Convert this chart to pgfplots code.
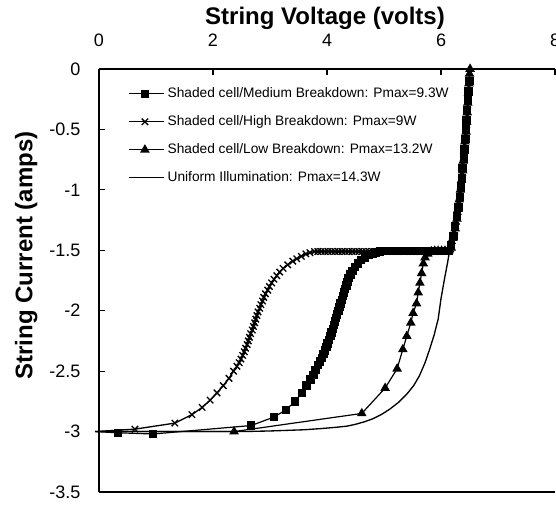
\documentclass[border=0pt]{standalone}
\usepackage{fontspec}
\setmainfont{Liberation Sans}
\usepackage{pgfplots}
\pgfplotsset{compat=1.18}
\begin{document}
\begin{tikzpicture}
\begin{axis}[
  name=ax,
  scale only axis, width=342pt, height=317.25pt,
  xmin=0, xmax=8, ymin=-3.5, ymax=0,
  axis x line*=box, axis y line*=left,
  xtick pos=right, xticklabel pos=right,
  tick align=inside,
  major tick length=4.5pt,
  every tick/.style={black, line width=0.9pt},
  axis line style={line width=1pt},
  xtick={0,2,4,6,8}, xticklabels={0,2,4,6,8},
  ytick={-3.5,-3,-2.5,-2,-1.5,-1,-0.5,0},
  yticklabels={-3.5,-3,-2.5,-2,-1.5,-1,-0.5,0},
  xticklabel style={font=\fontsize{13.5}{16}\selectfont, anchor=base, inner sep=0pt, yshift=16.9pt},
  yticklabel style={font=\fontsize{13.5}{16}\selectfont, anchor=east, inner sep=0pt, xshift=-13.7pt},
  xlabel={String Voltage (volts)},
  ylabel={String Current (amps)},
  xlabel style={font=\bfseries\fontsize{18}{21}\selectfont, at={(axis description cs:0.4956,1)}, anchor=base, yshift=33pt, inner sep=0pt},
  ylabel style={font=\bfseries\fontsize{18}{21}\selectfont, at={(axis description cs:-0.14627,0.5591)}, anchor=base, inner sep=0pt},
  clip=false,
  legend cell align=left,
  legend style={draw=none, fill=none, at={(axis description cs:0.0636,0.957)}, anchor=north west,
    font=\fontsize{10.3}{12}\selectfont, inner sep=0pt, row sep=11.5pt, column sep=2.5pt,
    nodes={inner sep=0pt, text height=7.5pt, text depth=2pt}},
  legend image code/.code={\draw[mark repeat=2,mark phase=2] plot coordinates {(0pt,0pt)(12pt,0pt)(26pt,0pt)};},
]
% Medium breakdown (squares)
\addplot[black, line width=0.9pt, mark=square*, mark size=2.7pt, mark phase=2, mark repeat=1, mark options={solid}] coordinates {
(-0.07,-3.00) (0.33,-3.01) (0.95,-3.02) (2.67,-2.95) (3.07,-2.88) (3.28,-2.82) (3.44,-2.75) (3.56,-2.68)
(3.64,-2.62) (3.71,-2.57) (3.76,-2.53) (3.80,-2.49) (3.84,-2.45) (3.88,-2.42) (3.91,-2.39) (3.94,-2.36)
(3.96,-2.33) (3.99,-2.30) (4.01,-2.27) (4.03,-2.24) (4.06,-2.21) (4.08,-2.18) (4.10,-2.15) (4.12,-2.12)
(4.14,-2.09) (4.16,-2.06) (4.18,-2.03) (4.20,-2.00) (4.22,-1.97) (4.24,-1.94) (4.26,-1.91) (4.28,-1.88)
(4.30,-1.85) (4.32,-1.82) (4.34,-1.79) (4.36,-1.76) (4.38,-1.73) (4.41,-1.70) (4.45,-1.67) (4.49,-1.64)
(4.54,-1.61) (4.60,-1.58) (4.67,-1.56) (4.74,-1.54) (4.80,-1.53) (4.86,-1.52) (4.93,-1.51)
(4.99,-1.505) (5.05,-1.505) (5.11,-1.505) (5.17,-1.505) (5.23,-1.505) (5.29,-1.505) (5.35,-1.505)
(5.41,-1.505) (5.47,-1.505) (5.53,-1.505) (5.59,-1.505) (5.65,-1.505) (5.71,-1.505) (5.77,-1.505)
(5.83,-1.505) (5.89,-1.505) (5.95,-1.505) (6.01,-1.505) (6.07,-1.505) (6.13,-1.505)
(6.18,-1.46) (6.22,-1.38) (6.25,-1.30) (6.28,-1.22) (6.31,-1.14) (6.33,-1.06) (6.35,-0.98) (6.37,-0.90)
(6.38,-0.82) (6.40,-0.74) (6.41,-0.66) (6.43,-0.58) (6.44,-0.50) (6.45,-0.42) (6.46,-0.34) (6.47,-0.26)
(6.48,-0.18) (6.50,-0.10)
};
\addlegendentry{Shaded cell/Medium Breakdown: Pmax=9.3W}
% High breakdown (x)
\addplot[black, line width=1pt, mark=x, mark size=3.4pt, mark phase=2, mark repeat=1, mark options={solid}] coordinates {
(-0.07,-3.00) (0.63,-2.98) (1.33,-2.93) (1.63,-2.86) (1.81,-2.80) (1.95,-2.74) (2.07,-2.68) (2.18,-2.62)
(2.28,-2.56) (2.36,-2.50) (2.42,-2.46) (2.46,-2.43) (2.49,-2.40) (2.52,-2.37) (2.55,-2.34) (2.57,-2.31)
(2.60,-2.28) (2.62,-2.25) (2.64,-2.22) (2.66,-2.19) (2.69,-2.16) (2.71,-2.13) (2.73,-2.10) (2.75,-2.07)
(2.77,-2.04) (2.79,-2.01) (2.82,-1.98) (2.84,-1.95) (2.87,-1.92) (2.89,-1.89) (2.92,-1.86) (2.96,-1.83)
(2.99,-1.80) (3.03,-1.77) (3.07,-1.74) (3.12,-1.71) (3.17,-1.68) (3.23,-1.65) (3.31,-1.62) (3.40,-1.59)
(3.47,-1.57) (3.55,-1.55) (3.63,-1.53) (3.70,-1.52)
(3.78,-1.51) (3.84,-1.51) (3.90,-1.51) (3.96,-1.51) (4.02,-1.51) (4.08,-1.51) (4.14,-1.51) (4.20,-1.51)
(4.26,-1.51) (4.32,-1.51) (4.38,-1.51) (4.44,-1.51) (4.50,-1.51) (4.56,-1.51) (4.62,-1.51) (4.68,-1.51)
(4.74,-1.51) (4.80,-1.51) (4.86,-1.51) (4.92,-1.51) (4.98,-1.51) (5.04,-1.51) (5.10,-1.51) (5.16,-1.51)
(5.22,-1.51) (5.28,-1.51) (5.34,-1.51) (5.40,-1.51) (5.46,-1.51) (5.52,-1.51) (5.58,-1.51) (5.64,-1.51)
(5.70,-1.51) (5.76,-1.51) (5.82,-1.51) (5.88,-1.51) (5.94,-1.51) (6.00,-1.51) (6.06,-1.51) (6.12,-1.51)
(6.17,-1.49) (6.20,-1.42) (6.24,-1.34) (6.27,-1.26) (6.30,-1.18) (6.32,-1.10) (6.34,-1.02) (6.36,-0.94)
(6.38,-0.86) (6.39,-0.78) (6.41,-0.70) (6.42,-0.62) (6.44,-0.54) (6.45,-0.46) (6.46,-0.38) (6.47,-0.30)
(6.48,-0.22) (6.49,-0.14)
};
\addlegendentry{Shaded cell/High Breakdown: Pmax=9W}
% Low breakdown (triangles)
\addplot[black, line width=0.9pt, mark=triangle*, mark size=3.3pt, mark phase=2, mark repeat=1, mark options={solid}] coordinates {
(-0.07,-3.00) (2.37,-3.00) (4.61,-2.85) (5.02,-2.64) (5.23,-2.48) (5.33,-2.32) (5.40,-2.21) (5.47,-2.10)
(5.51,-2.02) (5.57,-1.94) (5.60,-1.85) (5.63,-1.77) (5.66,-1.69) (5.69,-1.61) (5.72,-1.56) (5.77,-1.53)
(5.83,-1.51) (5.89,-1.505) (5.95,-1.505) (6.01,-1.505) (6.07,-1.505) (6.13,-1.505)
(6.18,-1.48) (6.21,-1.40) (6.25,-1.32) (6.28,-1.24) (6.30,-1.16) (6.32,-1.08) (6.34,-1.00) (6.36,-0.92)
(6.38,-0.84) (6.39,-0.76) (6.41,-0.68) (6.42,-0.60) (6.44,-0.52) (6.45,-0.44) (6.46,-0.36) (6.47,-0.28)
(6.48,-0.20) (6.49,-0.12) (6.50,-0.04) (6.51,0.00)
};
\addlegendentry{Shaded cell/Low Breakdown: Pmax=13.2W}
% Uniform illumination
\addplot[black, line width=1pt, no markers] coordinates {
(0,-3.00) (0.5,-3.00) (1.0,-3.00) (1.5,-3.00) (2.0,-3.00) (2.5,-3.00) (3.0,-2.995) (3.3,-2.99)
(3.6,-2.985) (3.9,-2.975) (4.15,-2.965) (4.35,-2.955) (4.5,-2.94) (4.65,-2.92) (4.8,-2.895) (4.95,-2.86)
(5.1,-2.815) (5.25,-2.76) (5.4,-2.69) (5.52,-2.62) (5.62,-2.54) (5.72,-2.43) (5.8,-2.32) (5.88,-2.2)
(5.95,-2.07) (6.00,-1.90) (6.06,-1.74) (6.12,-1.59) (6.17,-1.45) (6.22,-1.30) (6.27,-1.15) (6.31,-1.00)
(6.35,-0.85) (6.38,-0.70) (6.41,-0.55) (6.44,-0.40) (6.47,-0.25) (6.49,-0.12) (6.51,0)
};
\addlegendentry{Uniform Illumination: Pmax=14.3W}
\end{axis}
\pgfresetboundingbox
\path[use as bounding box] ([xshift=-74.25pt,yshift=-9pt]ax.south west) rectangle ([xshift=0.75pt,yshift=51.75pt]ax.north east);
\end{tikzpicture}
\end{document}
